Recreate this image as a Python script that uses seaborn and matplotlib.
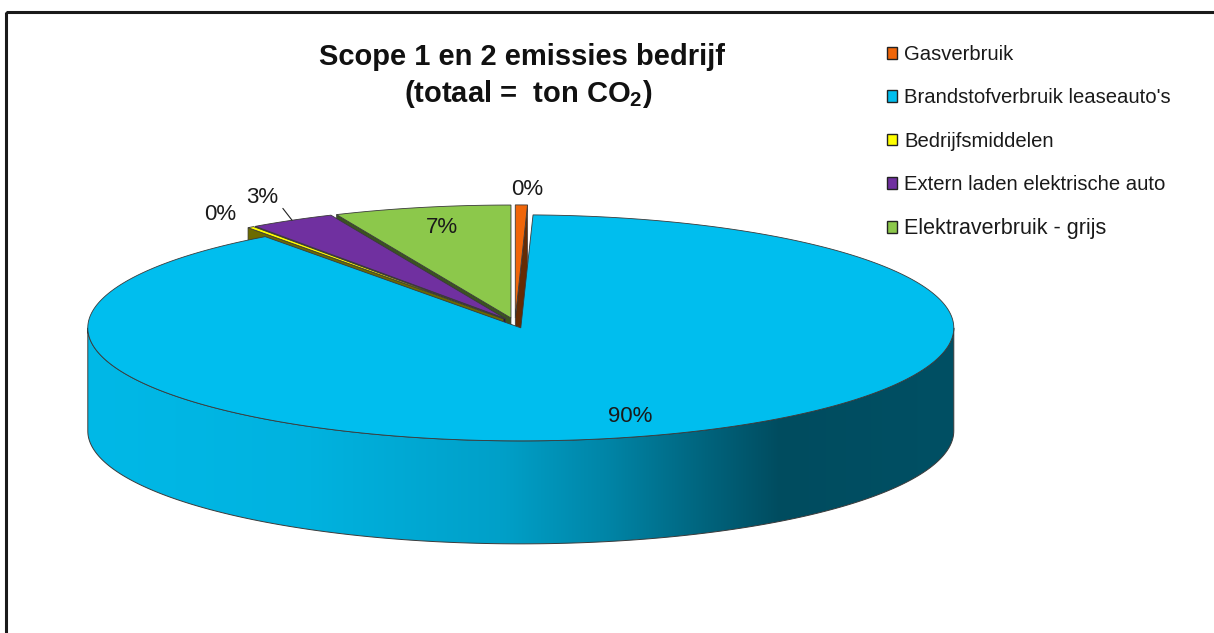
import numpy as np
import matplotlib
matplotlib.use("Agg")
import matplotlib.pyplot as plt
import seaborn as sns
from matplotlib.patches import Polygon, Rectangle, Patch
from matplotlib.colors import to_rgb

# ---------------- data ----------------
categories = ["Gasverbruik", "Brandstofverbruik leaseauto's", "Bedrijfsmiddelen",
              "Extern laden elektrische auto", "Elektraverbruik - grijs"]
shares = [0.45, 89.5, 0.25, 3.2, 6.6]
colors = ["#F0660A", "#00BEEE", "#FFFF00", "#7030A0", "#8CC84B"]
title_lines = ["Scope 1 en 2 emissies bedrijf", "(totaal =  ton CO$_2$)"]

# ---------------- style ----------------
sns.set_theme(style="white")
plt.rcParams["font.family"] = ["Liberation Sans", "DejaVu Sans"]
plt.rcParams["mathtext.fontset"] = "custom"
plt.rcParams["mathtext.rm"] = "Liberation Sans:bold"
plt.rcParams["mathtext.it"] = "Liberation Sans:bold"
plt.rcParams["mathtext.bf"] = "Liberation Sans:bold"

W, H = 1214, 633
fig = plt.figure(figsize=(W / 100, H / 100), dpi=100)
fig.patch.set_facecolor("white")
ax = fig.add_axes([0, 0, 1, 1])
ax.set_xlim(0, W)
ax.set_ylim(H, 0)
ax.axis("off")

# pie layout (pixel space)
CX, CY = 515.0, 323.0
RX, RY = 433.0, 113.0
DEPTH = 103.0
EXPL = 0.045
EDGE = "#3a3a3a"

vals = np.array(shares, dtype=float)
frac = vals / vals.sum()
ends = np.cumsum(frac) * 360.0
starts = ends - frac * 360.0


def rim(cx, cy, t, r=1.0):
    tr = np.radians(t)
    return cx + r * RX * np.sin(tr), cy - r * RY * np.cos(tr)


def darker(c, f):
    r, g, b = to_rgb(c)
    return (r * f, g * f, b * f)


centers = []
for t0, t1 in zip(starts, ends):
    m = np.radians((t0 + t1) / 2)
    centers.append((CX + EXPL * RX * np.sin(m), CY - EXPL * RY * np.cos(m)))

# ---- radial side faces (back to front) ----
faces = []
for i, (t0, t1) in enumerate(zip(starts, ends)):
    for a, vis in ((t0, np.sin(np.radians(t0)) < -1e-6), (t1, np.sin(np.radians(t1)) > 1e-6)):
        if vis:
            faces.append((np.cos(np.radians(a)), i, a))
faces.sort(key=lambda f: -f[0])
for _, i, a in faces:
    cx, cy = centers[i]
    x, y = rim(cx, cy, a)
    poly = Polygon([(cx, cy), (x, y), (x, y + DEPTH), (cx, cy + DEPTH)], closed=True,
                   facecolor=darker(colors[i], 0.42), edgecolor=EDGE, lw=0.5, zorder=2)
    ax.add_patch(poly)

# ---- outer walls (front half) with horizontal shading ----
shade_pos = [0.0, 0.25, 0.48, 0.60, 0.71, 0.80, 1.0]
shade_val = [0.97, 0.94, 0.84, 0.70, 0.53, 0.40, 0.42]
for i, (t0, t1) in enumerate(zip(starts, ends)):
    lo, hi = max(t0, 90.0), min(t1, 270.0)
    if hi <= lo:
        continue
    cx, cy = centers[i]
    ts = np.linspace(lo, hi, 200)
    xs, ys = rim(cx, cy, ts)
    pts = list(zip(xs, ys)) + list(zip(xs[::-1], ys[::-1] + DEPTH))
    wall = Polygon(pts, closed=True, facecolor="none", edgecolor=EDGE, lw=0.7, zorder=4)
    ax.add_patch(wall)
    xl, xr = cx - RX, cx + RX
    gx = np.linspace(0, 1, 600)
    f = np.interp(gx, shade_pos, shade_val)
    base = np.array(to_rgb(colors[i]))
    img = np.clip(f[None, :, None] * base[None, None, :], 0, 1)
    img = np.repeat(img, 2, axis=0)
    im = ax.imshow(img, extent=[xl, xr, cy + RY + DEPTH + 5, cy - RY], aspect="auto",
                   interpolation="bilinear", zorder=3)
    im.set_clip_path(wall)

# ---- top faces ----
for i, (t0, t1) in enumerate(zip(starts, ends)):
    cx, cy = centers[i]
    ts = np.linspace(t0, t1, max(4, int((t1 - t0) * 2)))
    xs, ys = rim(cx, cy, ts)
    pts = [(cx, cy)] + list(zip(xs, ys))
    ax.add_patch(Polygon(pts, closed=True, facecolor=colors[i], edgecolor=EDGE,
                         lw=0.6, zorder=5))

# ---- percentage labels ----
for i, (t0, t1) in enumerate(zip(starts, ends)):
    cx, cy = centers[i]
    mid = (t0 + t1) / 2
    pct = int(round(frac[i] * 100))
    if frac[i] >= 0.05:
        x, y = rim(cx, cy, mid, 0.82)
        x += 4
    elif pct > 0:
        x, y = rim(cx, cy, mid, 1.2)
        x0, y0 = rim(cx, cy, mid, 1.09)
        x1, y1 = rim(cx, cy, mid, 1.0)
        ax.plot([x0 + 10, x1], [y0 - 3, y1], color="#222222", lw=0.8, zorder=6)
        x, y = x + 13, y - 3
    else:
        x, y = rim(cx, cy, mid, 1.14)
        x += 5
    ax.text(x, y, f"{pct}%", ha="center", va="center", fontsize=16,
            color="#1a1a1a", zorder=7)

# ---- title ----
ax.text(522, 57, title_lines[0], ha="center", va="center", fontsize=21,
        fontweight="bold", color="#111111")
ax.text(528, 94, title_lines[1], ha="center", va="center", fontsize=21,
        fontweight="bold", color="#111111")

# ---- legend ----
handles = [Patch(facecolor=c, edgecolor="#222222", lw=1.0) for c in colors]
leg = fig.legend(handles, categories, loc="upper left",
                 bbox_to_anchor=(887 / W, 1 - 45 / H), frameon=False, fontsize=14.6,
                 labelspacing=1.2, handlelength=0.5, handleheight=0.5,
                 handletextpad=0.35, borderaxespad=0, borderpad=0)
for t in leg.get_texts():
    t.set_color("#1a1a1a")
leg.get_texts()[-1].set_fontsize(15.5)

# ---- frame ----
ax.add_patch(Rectangle((6, 12), W + 20, H + 20, fill=False, ec="#1a1a1a", lw=2.2, zorder=10))

ax.set_xlim(0, W)
ax.set_ylim(H, 0)
fig.savefig("out.png", dpi=100, facecolor="white")
